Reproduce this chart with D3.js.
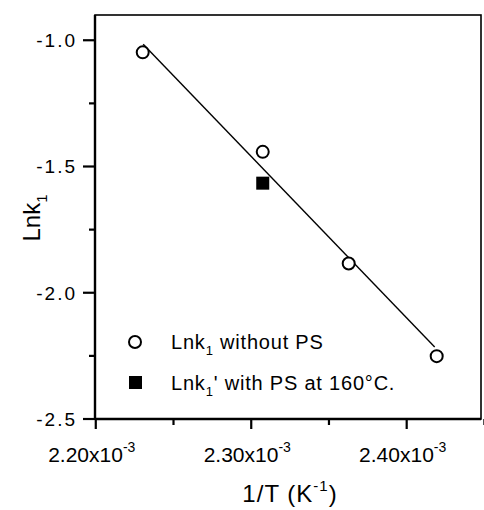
<!DOCTYPE html>
<html>
<head>
<meta charset="utf-8">
<script src="https://cdn.jsdelivr.net/npm/d3@7"></script>
<style>
  body { margin: 0; background: #fff; }
  svg { display: block; font-family: 'Liberation Sans', Arial, sans-serif; }
</style>
</head>
<body>
<svg id="chart" width="484" height="510"></svg>
<script>
// data
const invT = [2.2302e-3, 2.3074e-3, 2.3627e-3, 2.4193e-3]
const lnk1 = [-1.048, -1.442, -1.884, -2.251]
const invTps = [2.3074e-3]
const lnk1ps = [-1.566]
const fitX = [2.2305e-3, 2.418e-3]
const fitY = [-1.016, -2.215]
const xTicks = [2.2e-3, 2.3e-3, 2.4e-3]
const xMinor = [2.25e-3, 2.35e-3, 2.45e-3]
const yTicks = [-2.5, -2.0, -1.5, -1.0]
const yMinor = [-2.25, -1.75, -1.25]

const margin = { left: 95, top: 15, right: 3, bottom: 91 }
const width = 484
const height = 510

const svg = d3.select('#chart')

const x = d3
  .scaleLinear()
  .domain([2.1995e-3, 2.4478e-3])
  .range([margin.left, width - margin.right])

const y = d3
  .scaleLinear()
  .domain([-2.5, -0.9])
  .range([height - margin.bottom, margin.top])

// --------------------------------------------------------------
// Frame
svg
  .append('rect')
  .attr('x', margin.left)
  .attr('y', margin.top)
  .attr('width', width - margin.right - margin.left)
  .attr('height', height - margin.bottom - margin.top)
  .attr('fill', 'none')
  .attr('stroke', '#000')
  .attr('stroke-width', 1.6)

// --------------------------------------------------------------
// Axes
const xAxis = svg
  .append('g')
  .attr('transform', `translate(0,${height - margin.bottom})`)

xAxis
  .append('line')
  .attr('x1', margin.left)
  .attr('x2', width - margin.right)
  .attr('stroke', '#000')
  .attr('stroke-width', 2.4)

xAxis
  .selectAll('.major')
  .data(xTicks)
  .join('line')
  .attr('x1', (d) => x(d))
  .attr('x2', (d) => x(d))
  .attr('y1', 0)
  .attr('y2', 10)
  .attr('stroke', '#000')
  .attr('stroke-width', 2.2)

xAxis
  .selectAll('.minor')
  .data(xMinor)
  .join('line')
  .attr('x1', (d) => x(d))
  .attr('x2', (d) => x(d))
  .attr('y1', 0)
  .attr('y2', 6)
  .attr('stroke', '#000')
  .attr('stroke-width', 2.2)

const xLabels = xAxis
  .selectAll('text')
  .data(xTicks)
  .join('text')
  .attr('x', (d) => x(d) - 4)
  .attr('y', 43)
  .attr('text-anchor', 'middle')
  .attr('font-size', 21)
xLabels.append('tspan').text((d) => (d * 1000).toFixed(2) + 'x10')
xLabels
  .append('tspan')
  .attr('dy', -10)
  .attr('font-size', 14)
  .text('-3')

const yAxis = svg.append('g').attr('transform', `translate(${margin.left},0)`)

yAxis
  .append('line')
  .attr('y1', margin.top)
  .attr('y2', height - margin.bottom)
  .attr('stroke', '#000')
  .attr('stroke-width', 2.4)

yAxis
  .selectAll('.major')
  .data(yTicks)
  .join('line')
  .attr('y1', (d) => y(d))
  .attr('y2', (d) => y(d))
  .attr('x1', 0)
  .attr('x2', -12)
  .attr('stroke', '#000')
  .attr('stroke-width', 2.2)

yAxis
  .selectAll('.minor')
  .data(yMinor)
  .join('line')
  .attr('y1', (d) => y(d))
  .attr('y2', (d) => y(d))
  .attr('x1', 0)
  .attr('x2', -6)
  .attr('stroke', '#000')
  .attr('stroke-width', 2.2)

yAxis
  .selectAll('text')
  .data(yTicks)
  .join('text')
  .attr('x', -18)
  .attr('y', (d) => y(d))
  .attr('dy', '0.36em')
  .attr('text-anchor', 'end')
  .attr('font-size', 19)
  .attr('letter-spacing', 2)
  .text((d) => d.toFixed(1))

// axis titles
const xTitle = svg
  .append('text')
  .attr('x', 290)
  .attr('y', 502)
  .attr('text-anchor', 'middle')
  .attr('font-size', 24)
  .attr('letter-spacing', 1)
xTitle.append('tspan').text('1/T (K')
xTitle.append('tspan').attr('dy', -11).attr('font-size', 15).text('-1')
xTitle.append('tspan').attr('dy', 11).text(')')

const yTitle = svg
  .append('text')
  .attr('transform', 'translate(40,218) rotate(-90)')
  .attr('text-anchor', 'middle')
  .attr('font-size', 24)
yTitle.append('tspan').text('Lnk')
yTitle.append('tspan').attr('dy', 7).attr('font-size', 15).text('1')

// --------------------------------------------------------------
// Fit line
svg
  .append('line')
  .attr('x1', x(fitX[0]))
  .attr('y1', y(fitY[0]))
  .attr('x2', x(fitX[1]))
  .attr('y2', y(fitY[1]))
  .attr('stroke', '#000')
  .attr('stroke-width', 1.4)

// --------------------------------------------------------------
// Points
svg
  .append('g')
  .selectAll('circle')
  .data(invT.map((d, i) => [d, lnk1[i]]))
  .join('circle')
  .attr('cx', (d) => x(d[0]))
  .attr('cy', (d) => y(d[1]))
  .attr('r', 6)
  .attr('fill', '#fff')
  .attr('stroke', '#000')
  .attr('stroke-width', 2)

svg
  .append('g')
  .selectAll('rect')
  .data(invTps.map((d, i) => [d, lnk1ps[i]]))
  .join('rect')
  .attr('x', (d) => x(d[0]) - 6.5)
  .attr('y', (d) => y(d[1]) - 6.5)
  .attr('width', 13)
  .attr('height', 13)
  .attr('fill', '#000')

// --------------------------------------------------------------
// Legend
const legend = svg.append('g')
legend
  .append('circle')
  .attr('cx', 135)
  .attr('cy', 342)
  .attr('r', 6)
  .attr('fill', '#fff')
  .attr('stroke', '#000')
  .attr('stroke-width', 2)
const l1 = legend
  .append('text')
  .attr('x', 171)
  .attr('y', 349)
  .attr('font-size', 20)
  .attr('letter-spacing', 0.8)
l1.append('tspan').text('Lnk')
l1.append('tspan').attr('dy', 6).attr('font-size', 13).text('1')
l1.append('tspan').attr('dy', -6).text(' without PS')

legend
  .append('rect')
  .attr('x', 129)
  .attr('y', 376)
  .attr('width', 13)
  .attr('height', 13)
  .attr('fill', '#000')
const l2 = legend
  .append('text')
  .attr('x', 171)
  .attr('y', 390)
  .attr('font-size', 20)
  .attr('letter-spacing', 0.8)
l2.append('tspan').text('Lnk')
l2.append('tspan').attr('dy', 6).attr('font-size', 13).text('1')
l2.append('tspan').attr('dy', -6).text("' with PS at 160°C.")
</script>
</body>
</html>
